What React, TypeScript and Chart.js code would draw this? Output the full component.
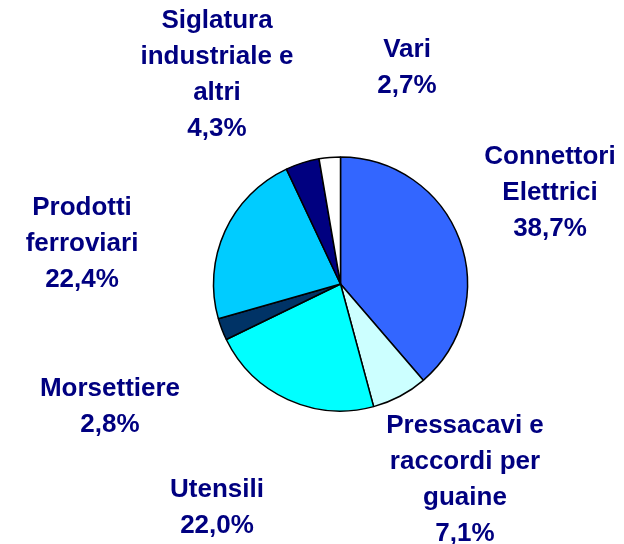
import React, { useEffect, useRef } from "react";
import { Chart, registerables } from "chart.js";

Chart.register(...registerables);

const categories = [
  "Connettori Elettrici",
  "Pressacavi e raccordi per guaine",
  "Utensili",
  "Morsettiere",
  "Prodotti ferroviari",
  "Siglatura industriale e altri",
  "Vari",
];
const values = [38.7, 7.1, 22.0, 2.8, 22.4, 4.3, 2.7];
const colors = ["#3366FF", "#CCFFFF", "#00FFFF", "#003366", "#00CCFF", "#000080", "#FFFFFF"];
const labelLines = [
  ["Connettori", "Elettrici", "38,7%"],
  ["Pressacavi e", "raccordi per", "guaine", "7,1%"],
  ["Utensili", "22,0%"],
  ["Morsettiere", "2,8%"],
  ["Prodotti", "ferroviari", "22,4%"],
  ["Siglatura", "industriale e", "altri", "4,3%"],
  ["Vari", "2,7%"],
];
// label anchor (center x, first line center y)
const labelPos = [
  [550, 157],
  [465, 426],
  [217, 490],
  [110, 389],
  [82, 208],
  [217, 21],
  [407, 50],
];

const labelPlugin = {
  id: "sliceLabels",
  afterDraw(chart: any) {
    const ctx = chart.ctx;
    ctx.save();
    ctx.font = "bold 26px 'Liberation Sans', Arial, sans-serif";
    ctx.fillStyle = "#000080";
    ctx.textAlign = "center";
    ctx.textBaseline = "middle";
    labelLines.forEach((lines, i) => {
      const [x, y] = labelPos[i];
      lines.forEach((t, j) => ctx.fillText(t, x, y + j * 35.8));
    });
    ctx.restore();
  },
};

export default function App() {
  const ref = useRef<HTMLCanvasElement>(null);
  useEffect(() => {
    const chart = new Chart(ref.current!, {
      type: "pie",
      data: {
        labels: categories,
        datasets: [
          {
            data: values,
            backgroundColor: colors,
            borderColor: "#000000",
            borderWidth: 1.5,
            borderAlign: "center",
          },
        ],
      },
      options: {
        responsive: false,
        animation: false,
        radius: 127,
        layout: { padding: { left: 212.5, right: 155.5, top: 156, bottom: 132 } },
        plugins: { legend: { display: false }, tooltip: { enabled: false } },
      },
      plugins: [labelPlugin],
    });
    return () => chart.destroy();
  }, []);
  return (
    <div style={{ position: "fixed", left: 0, top: 0, width: 624, height: 544, background: "#fff" }}>
      <canvas ref={ref} width={624} height={544} />
    </div>
  );
}
